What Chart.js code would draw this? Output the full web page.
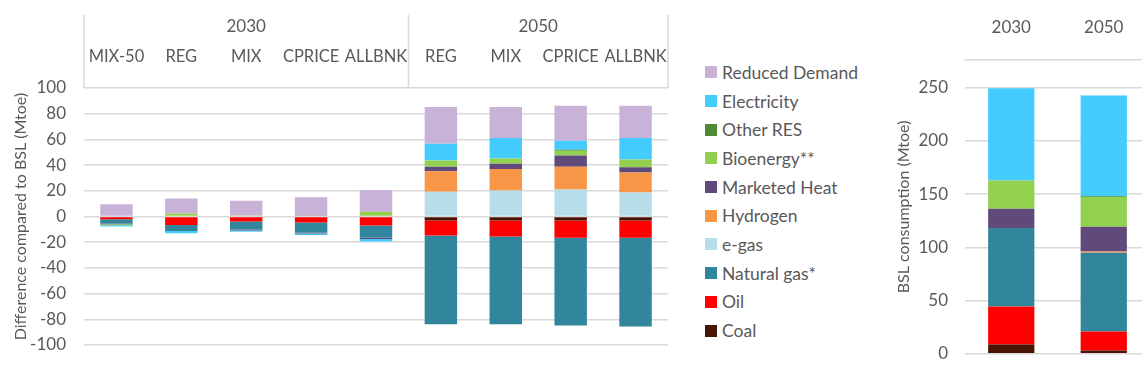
<!DOCTYPE html>
<html>
<head>
<meta charset="utf-8">
<script src="https://cdn.jsdelivr.net/npm/chart.js@4.4.0/dist/chart.umd.min.js"></script>
<style>
  html, body { margin: 0; padding: 0; background: #fff; overflow: hidden; }
  body { width: 1142px; height: 381px; position: relative; font-family: Lato, sans-serif; }
  #diffWrap { position: absolute; left: 0; top: 0; }
  #bslWrap { position: absolute; left: 880px; top: 0; }
  #legend { position: absolute; left: 705px; top: 58px; list-style: none; margin: 0; padding: 0; }
  #legend li { display: flex; align-items: center; height: 28.7px; font-size: 17.5px; color: #595959; white-space: nowrap; }
  #legend .box { width: 12px; height: 12px; margin-right: 5px; flex: none; }
</style>
</head>
<body>
<div id="diffWrap"><canvas id="diffChart" width="670" height="381"></canvas></div>
<ul id="legend"></ul>
<div id="bslWrap"><canvas id="bslChart" width="270" height="381"></canvas></div>
<script>
// categories
const scenarios = ['MIX-50', 'REG', 'MIX', 'CPRICE', 'ALLBNK', 'REG', 'MIX', 'CPRICE', 'ALLBNK'];
const scenarioYears = ['2030', '2030', '2030', '2030', '2030', '2050', '2050', '2050', '2050'];
const bslYears = ['2030', '2050'];
const seriesNames = ['Coal', 'Oil', 'Natural gas*', 'e-gas', 'Hydrogen', 'Marketed Heat',
                     'Bioenergy**', 'Other RES', 'Electricity', 'Reduced Demand'];

// difference compared to BSL (Mtoe), one value per scenario
const diffCoal     = [0, 0, 0, 0, 0, -3.1, -3.1, -3.1, -3.1];
const diffOil      = [-2.2, -6.6, -3.9, -4.7, -7.0, -11.7, -12.5, -13.5, -13.5];
const diffNatGas   = [-3.2, -4.7, -6.2, -7.8, -9.3, -69.0, -68.3, -68.2, -69.0];
const diffEgas     = [0, 0, 0, 0, 0, 19.2, 20.3, 21.0, 18.7];
const diffHydrogen = [0, 0, 0, 0, 0, 16.1, 16.6, 17.7, 15.6];
const diffHeat     = [-0.6, 0, -0.8, -0.8, -1.3, 3.4, 4.1, 8.8, 4.1];
const diffBio      = [-0.8, 2.3, 0.7, 0.3, 3.6, 4.9, 4.2, 3.6, 6.0];
const diffOtherRes = [0, 0, 0, 0, 0, 0, 0, 0.8, 0];
const diffElec     = [-1.0, -1.8, -1.0, -1.0, -1.8, 13.0, 15.8, 7.1, 16.6];
const diffReduced  = [9.5, 11.8, 11.6, 14.6, 17.0, 28.6, 24.2, 27.2, 25.2];

// BSL consumption (Mtoe), 2030 and 2050
const bslCoal     = [8.8, 3.2];
const bslOil      = [35.7, 17.8];
const bslNatGas   = [73.6, 74.0];
const bslEgas     = [0, 0];
const bslHydrogen = [0, 1.2];
const bslHeat     = [18.2, 23.1];
const bslBio      = [26.6, 28.1];
const bslOtherRes = [0, 0.5];
const bslElec     = [86.5, 94.8];

// tick labels
const diffTicks = [-100, -80, -60, -40, -20, 0, 20, 40, 60, 80, 100];
const bslTicks = [0, 50, 100, 150, 200, 250];

const diffData = [diffCoal, diffOil, diffNatGas, diffEgas, diffHydrogen, diffHeat, diffBio, diffOtherRes, diffElec, diffReduced];
const bslData = [bslCoal, bslOil, bslNatGas, bslEgas, bslHydrogen, bslHeat, bslBio, bslOtherRes, bslElec];

const seriesColors = ['#4a1504', '#ff0000', '#31859c', '#b7dee8', '#f79646', '#604a7b',
                      '#92d050', '#4f8a34', '#44ccff', '#c9b2d7'];
const textColor = '#595959';
const gridColor = '#d9d9d9';

Chart.defaults.font.family = 'Lato, sans-serif';
Chart.defaults.font.size = 17;
Chart.defaults.color = textColor;

// year groups above the scenario labels, with the separating lines
const headerPlugin = {
    id: 'header',
    afterDraw(chart) {
        const ctx = chart.ctx;
        const x = chart.scales.x;
        const top = chart.chartArea.top;
        const groups = [];
        scenarioYears.forEach((yr, i) => {
            const last = groups[groups.length - 1];
            if (last && last.year === yr) last.end = i;
            else groups.push({ year: yr, start: i, end: i });
        });
        const half = (x.getPixelForValue(1) - x.getPixelForValue(0)) / 2;
        ctx.save();
        ctx.strokeStyle = gridColor;
        ctx.lineWidth = 1.5;
        ctx.fillStyle = textColor;
        ctx.font = '17px Lato, sans-serif';
        ctx.textAlign = 'center';
        ctx.textBaseline = 'middle';
        groups.forEach((g, k) => {
            const left = x.getPixelForValue(g.start) - half;
            const right = x.getPixelForValue(g.end) + half;
            ctx.beginPath();
            ctx.moveTo(left, 15);
            ctx.lineTo(left, top);
            if (k === groups.length - 1) {
                ctx.moveTo(right, 15);
                ctx.lineTo(right, top);
            }
            ctx.stroke();
            ctx.fillText(g.year, (left + right) / 2, 27);
        });
        ctx.restore();
    }
};

function makeDatasets(values) {
    return values.map((vals, i) => ({
        label: seriesNames[i],
        data: vals,
        backgroundColor: seriesColors[i],
        borderWidth: 0,
        barPercentage: 0.5,
        categoryPercentage: 1
    }));
}

// fixed header height, and no extra side room for the top labels
function fitTop(h) {
    return s => {
        s.height = h;
        s.paddingLeft = 0;
        s.paddingRight = 0;
    };
}

const diffChart = new Chart(document.getElementById('diffChart'), {
    type: 'bar',
    data: { labels: scenarios, datasets: makeDatasets(diffData) },
    options: {
        responsive: false,
        animation: false,
        devicePixelRatio: 1,
        layout: { padding: { top: 0, right: 2, bottom: 36, left: 0 } },
        plugins: { legend: { display: false }, tooltip: { enabled: false } },
        scales: {
            x: {
                position: 'top',
                stacked: true,
                grid: { display: false },
                border: { display: false },
                ticks: { padding: 13, maxRotation: 0, autoSkip: false, font: { size: 16.5 } },
                afterFit: fitTop(88)
            },
            y: {
                stacked: true,
                min: -100,
                max: 100,
                afterBuildTicks: s => { s.ticks = diffTicks.map(v => ({ value: v })); },
                grid: { color: gridColor, lineWidth: 1.5, drawTicks: false },
                border: { display: false },
                ticks: { padding: 18 },
                title: { display: true, text: 'Difference compared to BSL (Mtoe)', padding: 11, font: { size: 16 } },
                afterFit: s => { s.width = 84; }
            }
        }
    },
    plugins: [headerPlugin]
});

const bslChart = new Chart(document.getElementById('bslChart'), {
    type: 'bar',
    data: { labels: bslYears, datasets: makeDatasets(bslData) },
    options: {
        responsive: false,
        animation: false,
        devicePixelRatio: 1,
        layout: { padding: { top: 0, right: 0, bottom: 6, left: 0 } },
        plugins: { legend: { display: false }, tooltip: { enabled: false } },
        scales: {
            x: {
                position: 'top',
                stacked: true,
                grid: { display: false },
                border: { display: true, color: gridColor, width: 1.5 },
                ticks: { padding: 14, maxRotation: 0 },
                afterFit: fitTop(60)
            },
            y: {
                stacked: true,
                min: 0,
                max: 276,
                afterBuildTicks: s => { s.ticks = bslTicks.map(v => ({ value: v })); },
                grid: { color: gridColor, lineWidth: 1.5, drawTicks: false },
                border: { display: false },
                ticks: { padding: 17 },
                title: { display: true, text: 'BSL consumption (Mtoe)', padding: 14, font: { size: 16 } },
                afterFit: s => { s.width = 85; }
            }
        }
    }
});

// legend, top to bottom in reverse stacking order
const legendEl = document.getElementById('legend');
diffChart.data.datasets.slice().reverse().forEach(ds => {
    const li = document.createElement('li');
    li.innerHTML = `<span class="box" style="background:${ds.backgroundColor}"></span>${ds.label}`;
    legendEl.appendChild(li);
});
</script>
</body>
</html>
